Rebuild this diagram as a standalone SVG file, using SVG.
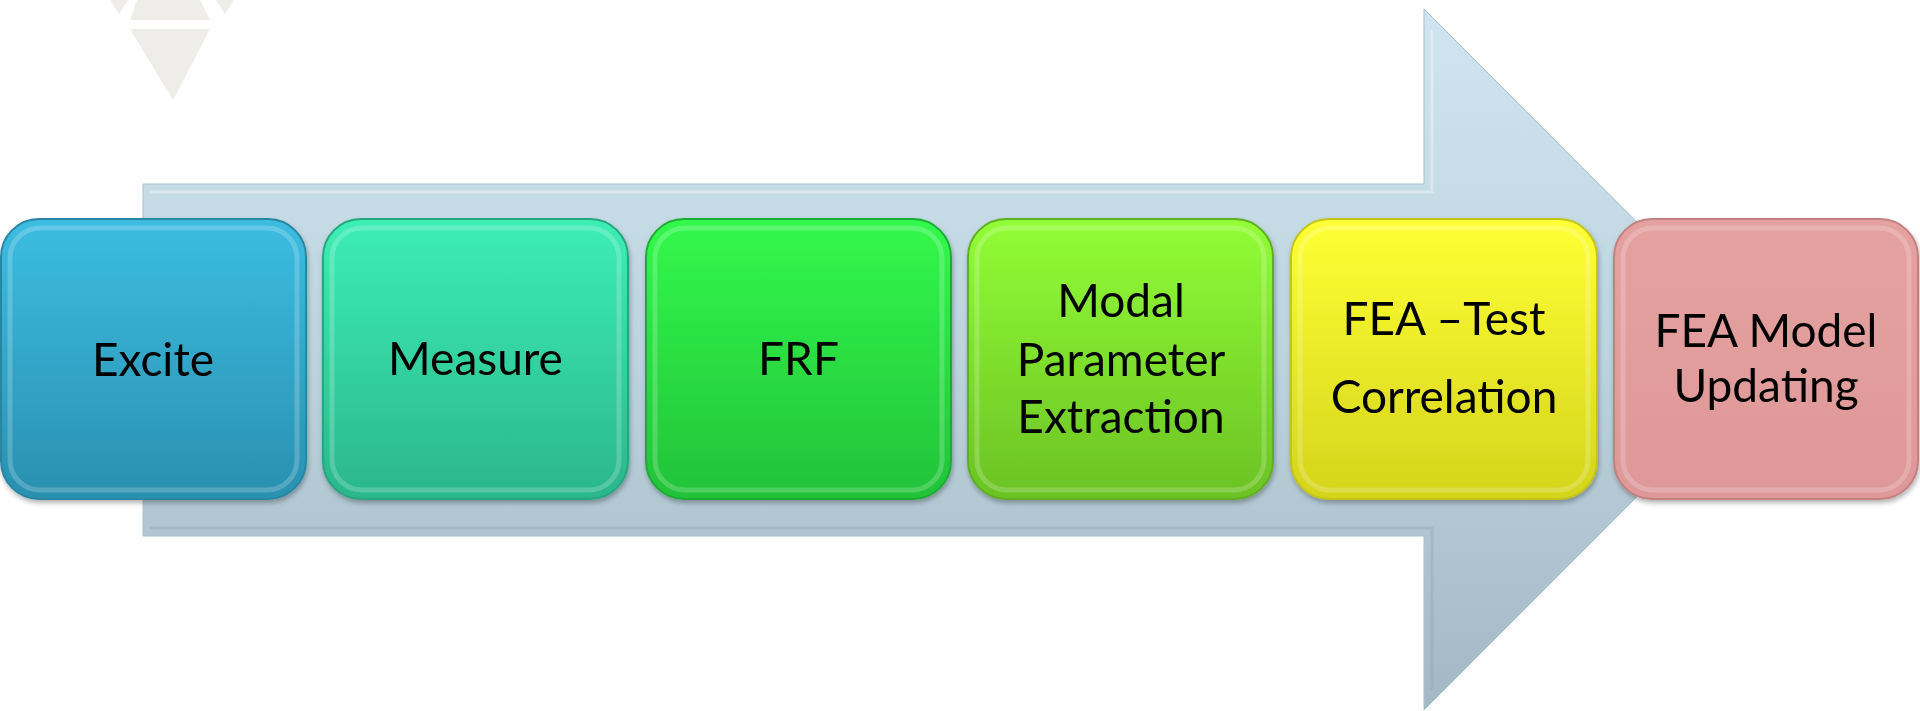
<svg xmlns="http://www.w3.org/2000/svg" width="1920" height="711" viewBox="0 0 1920 711">
<defs>
<style>
.lbl{font-family:Lato,"Open Sans","Liberation Sans",sans-serif;font-size:46px;fill:#000;text-anchor:middle}
.box{stroke-width:2}
.rim{fill:none;stroke:#ffffff;stroke-opacity:0.2;stroke-width:5}
.wm{fill:#eeede9}
</style>
<linearGradient id="gArrow" x1="0" y1="0" x2="0" y2="1">
<stop offset="0" stop-color="#cfe5ef"/>
<stop offset="0.5" stop-color="#bdd4de"/>
<stop offset="1" stop-color="#a2b8c3"/>
</linearGradient>
<linearGradient id="g1" x1="0" y1="0" x2="0" y2="1"><stop offset="0" stop-color="#3cbde1"/><stop offset="1" stop-color="#2a90b0"/></linearGradient>
<linearGradient id="g2" x1="0" y1="0" x2="0" y2="1"><stop offset="0" stop-color="#3cefb4"/><stop offset="1" stop-color="#2bb68b"/></linearGradient>
<linearGradient id="g3" x1="0" y1="0" x2="0" y2="1"><stop offset="0" stop-color="#32f94c"/><stop offset="1" stop-color="#22c239"/></linearGradient>
<linearGradient id="g4" x1="0" y1="0" x2="0" y2="1"><stop offset="0" stop-color="#92fd36"/><stop offset="1" stop-color="#6bc224"/></linearGradient>
<linearGradient id="g5" x1="0" y1="0" x2="0" y2="1"><stop offset="0" stop-color="#ffff35"/><stop offset="1" stop-color="#d4d41c"/></linearGradient>
<linearGradient id="g6" x1="0" y1="0" x2="0" y2="1"><stop offset="0" stop-color="#e5a1a0"/><stop offset="1" stop-color="#de9898"/></linearGradient>
<filter id="sh" x="-10%" y="-10%" width="120%" height="125%">
<feDropShadow dx="1" dy="3" stdDeviation="2.5" flood-color="#000" flood-opacity="0.3"/>
</filter>
</defs>
<rect width="1920" height="711" fill="#ffffff"/>
<g id="watermark">
<polygon class="wm" points="110,0 128,0 119,14"/>
<polygon class="wm" points="137,0 200,0 210,20 130,20"/>
<polygon class="wm" points="216,0 234,0 225,14"/>
<polygon class="wm" points="130,29 210,29 173,100"/>
</g>
<g id="connectors">
<polygon points="143,184 1424,184 1424,9 1774,359.5 1424,710 1424,536 143,536" fill="url(#gArrow)" stroke="#a9c0cb" stroke-width="1"/>
<polyline points="150,192 1432,192 1432,30" fill="none" stroke="#ffffff" stroke-opacity="0.35" stroke-width="3"/>
<polyline points="1432,690 1432,528 150,528" fill="none" stroke="#8ea4af" stroke-opacity="0.35" stroke-width="3"/>
</g>
<g id="n1" filter="url(#sh)">
<rect class="box" x="1" y="219" width="305" height="280" rx="38" fill="url(#g1)" stroke="#2886a4"/>
<rect class="rim" x="10" y="228" width="287" height="262" rx="30"/>
<text class="lbl" x="153" y="376">Excite</text>
</g>
<g id="n2" filter="url(#sh)">
<rect class="box" x="323" y="219" width="305" height="280" rx="38" fill="url(#g2)" stroke="#27a67f"/>
<rect class="rim" x="332" y="228" width="287" height="262" rx="30"/>
<text class="lbl" x="475.5" y="375">Measure</text>
</g>
<g id="n3" filter="url(#sh)">
<rect class="box" x="646" y="219" width="305" height="280" rx="38" fill="url(#g3)" stroke="#1fac34"/>
<rect class="rim" x="655" y="228" width="287" height="262" rx="30"/>
<text class="lbl" x="798.5" y="375">FRF</text>
</g>
<g id="n4" filter="url(#sh)">
<rect class="box" x="968" y="219" width="305" height="280" rx="38" fill="url(#g4)" stroke="#60ae20"/>
<rect class="rim" x="977" y="228" width="287" height="262" rx="30"/>
<text class="lbl" x="1121" y="317">Modal</text>
<text class="lbl" x="1121" y="376">Parameter</text>
<text class="lbl" x="1121" y="433">Extraction</text>
</g>
<g id="n5" filter="url(#sh)">
<rect class="box" x="1291" y="219" width="306" height="280" rx="38" fill="url(#g5)" stroke="#c4c418"/>
<rect class="rim" x="1300" y="228" width="288" height="262" rx="30"/>
<text class="lbl" x="1444" y="335">FEA –Test</text>
<text class="lbl" x="1444" y="413">Correlation</text>
</g>
<g id="n6" filter="url(#sh)">
<rect class="box" x="1614" y="219" width="304" height="280" rx="38" fill="url(#g6)" stroke="#c28080"/>
<rect class="rim" x="1623" y="228" width="286" height="262" rx="30"/>
<text class="lbl" x="1766" y="347">FEA Model</text>
<text class="lbl" x="1766" y="402">Updating</text>
</g>
</svg>
